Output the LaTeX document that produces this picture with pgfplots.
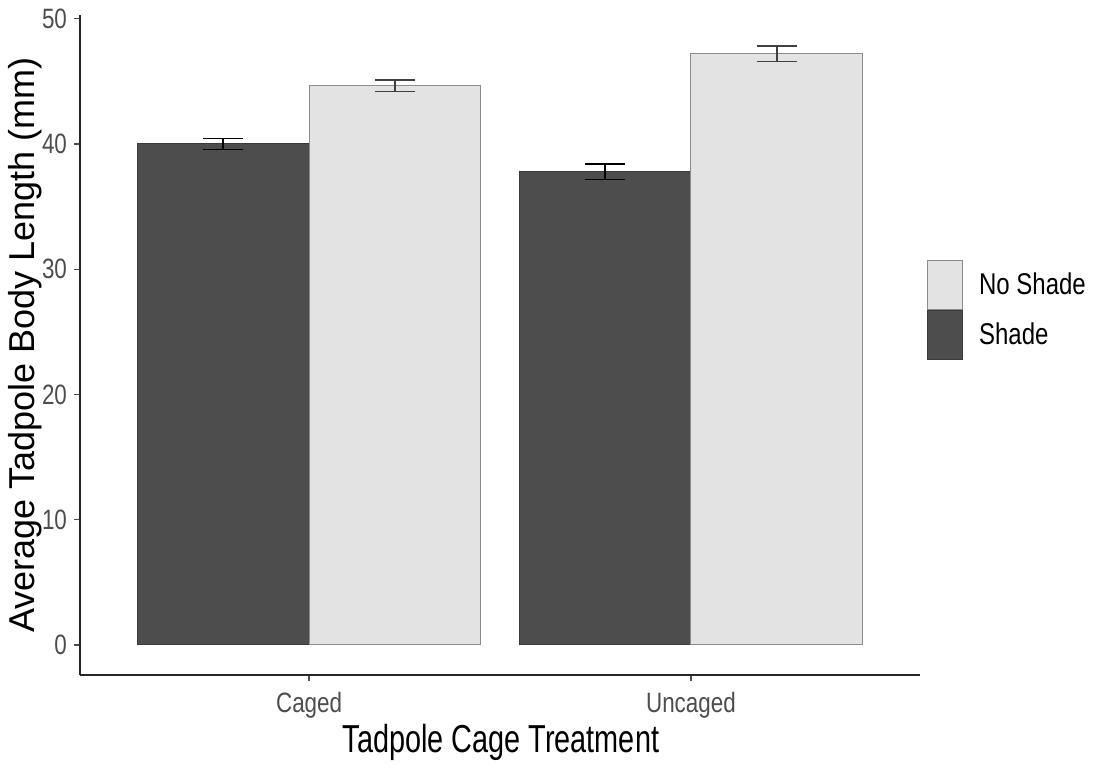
\documentclass[border=0pt]{standalone}
\usepackage{pgfplots}
\pgfplotsset{compat=1.18}
\usepackage{fontspec}
\setmainfont{Liberation Sans}[FakeStretch=0.8]
\newfontfamily\ylabfont{Liberation Sans}
\newfontfamily\xlabfont{Liberation Sans}[FakeStretch=0.74]
\definecolor{shadefill}{HTML}{4D4D4D}
\definecolor{shadedraw}{HTML}{3A3A3A}
\definecolor{noshadefill}{HTML}{E3E3E3}
\definecolor{noshadedraw}{HTML}{8C8C8C}
\definecolor{ticklab}{HTML}{4D4D4D}
\begin{document}
\begin{tikzpicture}
\path[use as bounding box] (-40pt,-45.5pt) rectangle (508.5pt,337.5pt);
\begin{axis}[
  at={(0,0)}, anchor=south west,
  scale only axis, width=420pt, height=330pt,
  xmin=0.4, xmax=2.6, ymin=-2.4, ymax=50.3,
  axis lines=left,
  axis line style={-, line width=1pt, color=black!85},
  xtick={1,2}, xticklabels={Caged,Uncaged},
  ytick={0,10,20,30,40,50},
  tick align=outside, major tick length=3pt,
  tick style={line width=0.6pt, color=black!70},
  ticklabel style={font=\fontsize{14}{16}\selectfont, color=ticklab},
  xticklabel style={anchor=base, yshift=-15.5pt},
  /pgf/number format/assume math mode=true,
  xlabel={\xlabfont Tadpole Cage Treatment},
  ylabel={\ylabfont Average Tadpole Body Length (mm)},
  xlabel style={font=\fontsize{19.5}{22}\selectfont, anchor=base, at={(axis description cs:0.501,-0.1167)}},
  ylabel style={font=\fontsize{18}{21}\selectfont, anchor=center, at={(axis description cs:-0.0655,0.5)}},
  legend image code/.code={\draw[#1] (0pt,-12.25pt) rectangle (17.5pt,12.25pt);},
  legend style={at={(axis description cs:1.008,0.629)}, anchor=north west,
    draw=none, fill=none, inner sep=0pt, row sep=0pt,
    font=\fontsize{15}{17}\selectfont,
    nodes={inner sep=0pt, anchor=west},
    /tikz/every odd column/.style={column sep=8pt}},
  reverse legend,
  clip=false,
]
\addplot[ybar, bar width=0.45, bar shift=-0.225, fill=shadefill, draw=shadedraw, line width=0.5pt]
  coordinates {(1,40.0) (2,37.8)};
\addlegendentry{Shade}
\addplot[ybar, bar width=0.45, bar shift=0.225, fill=noshadefill, draw=noshadedraw, line width=0.5pt]
  coordinates {(1,44.65) (2,47.2)};
\addlegendentry{No Shade}
% error bars for Shade
\addplot[forget plot, draw=none, mark=none,
  error bars/.cd, y dir=both, y explicit, error mark=|,
  error bar style={line width=0.8pt, draw=black},
  error mark options={line width=0.8pt, draw=black, mark size=10pt}]
  coordinates {(0.775,40.0) +- (0,0.45) (1.775,37.8) +- (0,0.62)};
% error bars for No Shade
\addplot[forget plot, draw=none, mark=none,
  error bars/.cd, y dir=both, y explicit, error mark=|,
  error bar style={line width=0.8pt, draw=black!75},
  error mark options={line width=0.8pt, draw=black!75, mark size=10pt}]
  coordinates {(1.225,44.65) +- (0,0.45) (2.225,47.2) +- (0,0.62)};
\end{axis}
\end{tikzpicture}
\end{document}
